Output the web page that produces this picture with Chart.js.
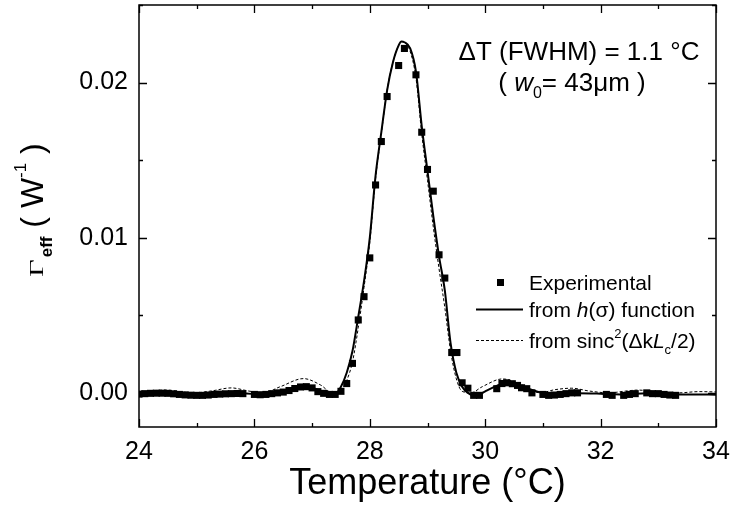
<!DOCTYPE html>
<html lang="en">
<head>
<meta charset="UTF-8">
<title>Effective conversion vs temperature</title>
<script src="https://cdn.jsdelivr.net/npm/chart.js"></script>
<style>
  body { margin: 0; background: #fff; }
  #wrap { width: 731px; height: 510px; }
</style>
</head>
<body>
<div id="wrap"><canvas id="chart" width="731" height="510"></canvas></div>
<script>
// Experimental points (temperature in °C, Gamma_eff in W^-1)
const expTemp = [24.0, 24.1, 24.2, 24.3, 24.4, 24.5, 24.6, 24.7, 24.8, 24.9, 25.0, 25.1, 25.2, 25.3, 25.4, 25.5, 25.6, 25.7, 25.8,
  26.0, 26.1, 26.2, 26.3, 26.4, 26.5, 26.6, 26.7, 26.8, 26.9, 27.0, 27.1, 27.2, 27.3, 27.4, 27.5, 27.6, 27.7, 27.8, 27.9,
  28.0, 28.1, 28.2, 28.3, 28.5, 28.6, 28.8, 28.9, 29.0, 29.1, 29.2, 29.3, 29.42, 29.51, 29.6, 29.7, 29.8, 29.9,
  30.2, 30.29, 30.37, 30.47, 30.56, 30.63, 30.72, 30.81, 31.0, 31.1, 31.2, 31.3, 31.4, 31.5, 31.6,
  32.1, 32.2, 32.4, 32.5, 32.6, 32.8, 32.9, 33.0, 33.1, 33.2, 33.3];
const expGamma = [-0.00008, -0.00005, -0.00003, -0.00002, -0.00002, -0.00003, -0.00006, -0.0001, -0.00013, -0.00015, -0.00016, -0.00016, -0.00014, -0.0001, -0.00008, -0.00006, -0.00005, -0.00004, -0.00005,
  -0.0001, -0.00012, -0.0001, -0.00005, 0.0, 0.00005, 0.00015, 0.00028, 0.00038, 0.0004, 0.00032, 0.00008, -0.00003, -0.0001, -0.0001, 0.0001, 0.0006, 0.0019, 0.0047, 0.0062,
  0.0087, 0.0134, 0.0162, 0.0191, 0.0211, 0.0222, 0.0205, 0.0168, 0.0144, 0.0130, 0.0089, 0.0074, 0.0026, 0.0026, 0.00065, 0.0003, -0.00016, -0.00016,
  0.00027, 0.0006, 0.00065, 0.00059, 0.00048, 0.00033, 0.00027, 0.0, -0.0001, -0.00016, -0.00014, -0.0001, -0.00005, 0.0, 0.0,
  -0.0001, -0.00016, -0.00016, -0.0001, -0.00005, 0.0, -0.00005, -0.00005, -0.0001, -0.00014, -0.00016];

// Curve from h(sigma) function
const hTemp = [24.0, 24.4, 24.8, 25.1, 25.5, 25.8, 26.1, 26.4, 26.6, 26.8, 26.9, 27.0, 27.1, 27.2, 27.3, 27.4, 27.5, 27.6, 27.7, 27.8, 27.9,
  28.0, 28.1, 28.2, 28.3, 28.4, 28.5, 28.55, 28.6, 28.7, 28.8, 28.9, 29.0, 29.1, 29.2, 29.3, 29.4, 29.5, 29.6, 29.7, 29.8, 29.9,
  30.0, 30.2, 30.4, 30.6, 30.8, 31.0, 31.3, 31.6, 32.0, 32.4, 32.8, 33.2, 33.6, 34.0];
const hGamma = [-0.00005, -0.00002, -0.0001, -0.00013, -0.00008, -0.00003, -0.0001, 0.00005, 0.0002, 0.00036, 0.0004, 0.00034, 0.0002, 0.00003, -0.00008, -0.00008, 0.0004, 0.0013, 0.0027, 0.0049, 0.0072,
  0.0100, 0.0140, 0.0168, 0.0195, 0.0213, 0.0224, 0.02265, 0.0226, 0.0222, 0.0207, 0.0172, 0.0143, 0.0114, 0.0088, 0.0066, 0.0032, 0.0013, 0.0004, 0.0, -0.00015, -0.0001,
  0.0001, 0.00045, 0.00065, 0.0005, 0.0002, 0.0, -0.00008, -0.00002, -0.00005, -0.0001, -0.00002, -0.0001, -0.0001, -0.00012];

// Curve from sinc^2(dk Lc / 2)
const sincTemp = [24.0, 24.45, 24.95, 25.25, 25.6, 25.9, 26.15, 26.45, 26.85, 27.15, 27.35, 27.5, 27.6, 27.7, 27.8, 27.9,
  28.0, 28.1, 28.2, 28.3, 28.4, 28.5, 28.55, 28.6, 28.7, 28.8, 28.9, 29.0, 29.1, 29.2, 29.3, 29.4, 29.5, 29.6, 29.75,
  29.95, 30.3, 30.65, 30.95, 31.2, 31.5, 31.8, 32.15, 32.4, 32.65, 32.9, 33.35, 33.7, 34.0];
const sincGamma = [0.00004, 0.00018, 0.0, 0.00012, 0.00032, 0.00012, 0.0, 0.0004, 0.00092, 0.0005, 0.0, 0.00015, 0.0008, 0.0020, 0.0042, 0.0068,
  0.0097, 0.0138, 0.0167, 0.0195, 0.0213, 0.0224, 0.02265, 0.0226, 0.0220, 0.0203, 0.0167, 0.0137, 0.0107, 0.0080, 0.0055, 0.0027, 0.0009, 0.0001, 0.0,
  0.0004, 0.0009, 0.0005, 0.0, 0.0002, 0.0003, 0.00012, 0.0, 0.0001, 0.00018, 0.0001, 0.0, 0.00008, 0.00006];

const xMin = 24, xMax = 34, xStep = 1;
const yMin = -0.0022, yMax = 0.025, yStep = 0.005;

const SANS = '"Liberation Sans", Arial, sans-serif';
const toXY = (xs, ys) => xs.map((x, i) => ({x: x, y: ys[i]}));
const isMajorY = v => Math.abs(v / 0.01 - Math.round(v / 0.01)) < 1e-6;

// draws a row of text pieces with their own font / vertical shift
function drawRuns(ctx, x, y, runs, align) {
  let total = 0;
  runs.forEach(r => { ctx.font = r.font; total += ctx.measureText(r.text).width; });
  let cx = align === 'center' ? x - total / 2 : x;
  ctx.textAlign = 'left';
  ctx.textBaseline = 'alphabetic';
  runs.forEach(r => {
    ctx.font = r.font;
    ctx.fillText(r.text, cx, y + (r.dy || 0));
    cx += ctx.measureText(r.text).width;
  });
}

const framePlugin = {
  id: 'frame',
  afterDraw(chart) {
    const {ctx, chartArea: a} = chart;
    const xs = chart.scales.x, ys = chart.scales.y;
    ctx.save();
    ctx.strokeStyle = '#000';
    ctx.fillStyle = '#000';
    ctx.lineWidth = 1.5;
    ctx.strokeRect(a.left, a.top, a.right - a.left, a.bottom - a.top);

    // inward ticks on all four sides
    ctx.lineWidth = 1.3;
    ctx.beginPath();
    xs.ticks.forEach(t => {
      const px = Math.round(xs.getPixelForValue(t.value)) + 0.5;
      const len = t.value % 2 === 0 ? 8 : 4;
      ctx.moveTo(px, a.bottom); ctx.lineTo(px, a.bottom - len);
      ctx.moveTo(px, a.top); ctx.lineTo(px, a.top + len);
    });
    ys.ticks.forEach(t => {
      const py = Math.round(ys.getPixelForValue(t.value)) + 0.5;
      const len = isMajorY(t.value) ? 8 : 4;
      ctx.moveTo(a.left, py); ctx.lineTo(a.left + len, py);
      ctx.moveTo(a.right, py); ctx.lineTo(a.right - len, py);
    });
    ctx.stroke();

    // y axis title: Gamma_eff ( W^-1 )
    ctx.save();
    ctx.translate(43, 277);
    ctx.rotate(-Math.PI / 2);
    ctx.save();
    ctx.scale(1.7, 1);
    ctx.font = '18px "Liberation Serif", serif';
    ctx.textBaseline = 'alphabetic';
    ctx.fillText('\u0393', 0, 0);
    const gw = ctx.measureText('\u0393').width * 1.7;
    ctx.restore();
    drawRuns(ctx, gw + 2, 0, [
      {text: 'eff', font: 'bold 17px ' + SANS, dy: 9},
      {text: ' ( ', font: '32px ' + SANS},
      {text: 'W', font: '32px ' + SANS},
      {text: '-1', font: '17px ' + SANS, dy: -17},
      {text: ' )', font: '32px ' + SANS}
    ], 'left');
    ctx.restore();

    // annotation
    drawRuns(ctx, 579, 60, [
      {text: '\u0394T (FWHM) = 1.1 \u00B0C', font: '26px ' + SANS}
    ], 'center');
    drawRuns(ctx, 572, 91, [
      {text: '( ', font: '26px ' + SANS},
      {text: 'w', font: 'italic 26px ' + SANS},
      {text: '0', font: '16px ' + SANS, dy: 7},
      {text: '= 43\u03BCm )', font: '26px ' + SANS}
    ], 'center');

    // legend
    ctx.fillRect(497, 279, 7, 7);
    drawRuns(ctx, 529, 290, [{text: 'Experimental', font: '21px ' + SANS}], 'left');
    ctx.lineWidth = 2;
    ctx.beginPath(); ctx.moveTo(476, 309.5); ctx.lineTo(523, 309.5); ctx.stroke();
    drawRuns(ctx, 529, 317, [
      {text: 'from ', font: '21px ' + SANS},
      {text: 'h', font: 'italic 21px ' + SANS},
      {text: '(\u03C3) function', font: '21px ' + SANS}
    ], 'left');
    ctx.lineWidth = 1;
    ctx.setLineDash([3, 2]);
    ctx.beginPath(); ctx.moveTo(476, 340.5); ctx.lineTo(523, 340.5); ctx.stroke();
    ctx.setLineDash([]);
    drawRuns(ctx, 529, 348, [
      {text: 'from sinc', font: '21px ' + SANS},
      {text: '2', font: '13px ' + SANS, dy: -10},
      {text: '(\u0394k', font: '21px ' + SANS},
      {text: 'L', font: 'italic 21px ' + SANS},
      {text: 'c', font: '13px ' + SANS, dy: 6},
      {text: '/2)', font: '21px ' + SANS}
    ], 'left');
    ctx.restore();
  }
};

new Chart(document.getElementById('chart'), {
  type: 'scatter',
  data: {
    datasets: [
      {
        label: 'Experimental',
        data: toXY(expTemp, expGamma),
        showLine: false,
        pointStyle: 'rect',
        pointRadius: 5,
        pointBackgroundColor: '#000',
        pointBorderWidth: 0,
        order: 0
      },
      {
        label: 'from h(\u03C3) function',
        data: toXY(hTemp, hGamma),
        showLine: true,
        borderColor: '#000',
        borderWidth: 2,
        pointRadius: 0,
        cubicInterpolationMode: 'monotone',
        order: 1
      },
      {
        label: 'from sinc\u00B2(\u0394kLc/2)',
        data: toXY(sincTemp, sincGamma),
        showLine: true,
        borderColor: '#000',
        borderWidth: 1,
        borderDash: [3, 2],
        pointRadius: 0,
        cubicInterpolationMode: 'monotone',
        order: 2
      }
    ]
  },
  options: {
    responsive: false,
    animation: false,
    layout: { padding: { left: 0, right: 15, top: 3, bottom: 0 } },
    plugins: { legend: { display: false }, tooltip: { enabled: false } },
    scales: {
      x: {
        type: 'linear',
        min: xMin, max: xMax,
        grid: { display: false, drawTicks: false },
        border: { display: false },
        afterFit: s => { s.height = 83; s.paddingLeft = 0; s.paddingRight = 0; },
        ticks: {
          stepSize: xStep,
          autoSkip: false,
          maxRotation: 0,
          padding: 10,
          color: '#000',
          font: { family: SANS, size: 25 },
          callback: v => (v % 2 === 0 ? String(v) : '')
        },
        title: {
          display: true,
          text: 'Temperature (\u00B0C)',
          color: '#000',
          font: { family: SANS, size: 36 },
          padding: { top: 0, bottom: 4 }
        }
      },
      y: {
        type: 'linear',
        min: yMin, max: yMax,
        grid: { display: false, drawTicks: false },
        border: { display: false },
        afterFit: s => { s.width = 139; s.paddingTop = 0; s.paddingBottom = 0; },
        ticks: {
          stepSize: yStep,
          includeBounds: false,
          padding: 11,
          color: '#000',
          font: { family: SANS, size: 25 },
          callback: v => (isMajorY(v) ? v.toFixed(2) : '')
        }
      }
    }
  },
  plugins: [framePlugin]
});
</script>
</body>
</html>
